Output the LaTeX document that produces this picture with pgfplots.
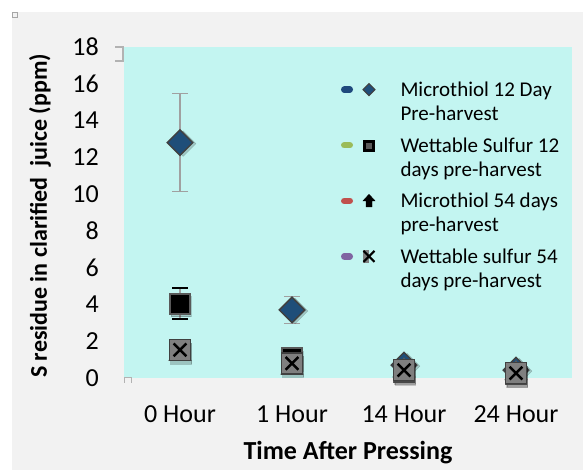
\documentclass[border=0pt]{standalone}
\usepackage{fontspec}
\setmainfont{Carlito}
\usepackage{pgfplots}
\pgfplotsset{compat=1.18}
\definecolor{bgout}{HTML}{F2F2F2}
\definecolor{plotbg}{HTML}{C3F5F1}
\definecolor{dblue}{HTML}{1F4E79}
\definecolor{mborder}{HTML}{404040}
\definecolor{sqborder}{HTML}{595959}
\definecolor{xfill}{HTML}{7F7F7F}
\definecolor{errgray}{HTML}{A0A0A0}
\definecolor{lblue}{HTML}{1F497D}
\definecolor{lgreen}{HTML}{9BBB59}
\definecolor{lred}{HTML}{C0504D}
\definecolor{lpurple}{HTML}{8064A2}
\newcommand{\lentry}[2]{\parbox[t]{170bp}{#1\\#2}}
\begin{document}
\begin{tikzpicture}
\path[use as bounding box] (0,0) rectangle (583bp,470bp);
\fill[white] (0,0) rectangle (583bp,470bp);
\fill[bgout] (12bp,0) rectangle (583bp,458bp);
\draw[gray!70, line width=1bp] (12.5bp,452.5bp) rectangle (17.5bp,457.5bp);
\begin{axis}[
  at={(124bp,92bp)}, anchor=south west,
  scale only axis, width=448bp, height=331bp,
  xmin=-0.5, xmax=3.5, ymin=0, ymax=18,
  axis background/.style={fill=plotbg},
  axis line style={draw=none},
  major tick length=0pt,
  xtick={0,1,2,3},
  xticklabels={0 Hour,1 Hour,14 Hour,24 Hour},
  ytick={0,2,...,18},
  /pgf/number format/assume math mode=true,
  tick label style={font=\fontsize{26bp}{30bp}\selectfont},
  xticklabel style={anchor=base, yshift=-44bp},
  yticklabel style={anchor=east, inner sep=0pt, xshift=-25bp},
  every axis x label/.style={at={(axis description cs:0.5,-0.2266)}, anchor=center},
  every axis y label/.style={at={(axis description cs:-0.1875,0.49)}, anchor=center, rotate=90},
  xlabel={Time After Pressing},
  ylabel={S residue in clarified\ \ juice (ppm)},
  xlabel style={font=\fontsize{26bp}{30bp}\selectfont\bfseries},
  ylabel style={font=\fontsize{24bp}{28bp}\selectfont\bfseries},
  legend style={at={(axis description cs:0.4844,0.900)}, anchor=north west,
    draw=none, fill=none, inner sep=0pt, outer sep=0pt,
    font=\fontsize{21bp}{24bp}\selectfont,
    row sep=0bp, column sep=23bp,
    cells={anchor=base west, inner sep=0pt}},
]
% soft shadows
\addplot[forget plot, only marks, mark=square*, mark size=9bp,
  mark options={rotate=45, fill=black, draw=none, opacity=0.18, xshift=1.5bp, yshift=-3bp}]
  coordinates {(0,12.8) (1,3.7) (2,0.7) (3,0.43)};
% Microthiol 12 day
\addplot[forget plot, only marks, mark=square*, mark size=9bp,
  mark options={rotate=45, fill=dblue, draw=mborder, line width=1.5bp},
  error bars/.cd, y dir=both, y explicit,
  error bar style={color=errgray, line width=1.2bp},
  error mark options={rotate=90, color=errgray, line width=1.2bp, mark size=8bp}]
  coordinates {(0,12.8) +- (0,2.65) (1,3.7) +- (0,0.75) (2,0.7) +- (0,0) (3,0.43) +- (0,0)};
% Wettable sulfur 12 days
\addplot[forget plot, only marks, mark=square*, mark size=10bp,
  mark options={fill=black, draw=none, opacity=0.18, xshift=1bp, yshift=-3bp}]
  coordinates {(0,4.05) (1,1.1) (2,0.3) (3,0.2)};
\addplot[forget plot, only marks, mark=square*, mark size=10bp,
  mark options={fill=black, draw=sqborder, line width=2bp},
  error bars/.cd, y dir=both, y explicit,
  error bar style={color=errgray, line width=1.2bp},
  error mark options={rotate=90, color=black, line width=1.5bp, mark size=8bp}]
  coordinates {(0,4.05) +- (0,0.85) (1,1.1) +- (0,0) (2,0.3) +- (0,0) (3,0.2) +- (0,0)};
% Microthiol 54 days
\addplot[forget plot, only marks, mark=triangle*, mark size=12bp,
  mark options={fill=black, draw=sqborder, line width=1.5bp}]
  coordinates {(0,1.3) (1,0.55) (2,0.4) (3,0.25)};
% Wettable sulfur 54 days
\addplot[forget plot, only marks, mark=square*, mark size=10.5bp,
  mark options={fill=black, draw=none, opacity=0.2, xshift=1bp, yshift=-3.5bp}]
  coordinates {(0,1.53) (1,0.8) (2,0.43) (3,0.27)};
\addplot[forget plot, only marks, mark=square*, mark size=10.5bp,
  mark options={fill=xfill, draw=mborder, line width=1.5bp}]
  coordinates {(0,1.53) (1,0.8) (2,0.43) (3,0.27)};
\addplot[forget plot, only marks, mark=x, mark size=9bp,
  mark options={draw=black, line width=2.5bp}]
  coordinates {(0,1.53) (1,0.8) (2,0.43) (3,0.27)};

\addlegendimage{legend image code/.code={
  \path[draw=none, fill=none] (0bp,-39bp) -- (0bp,15bp);
  \draw[lblue, line width=6.5bp, line cap=round] (3.25bp,7bp) -- (8.75bp,7bp);
  \fill[dblue, draw=mborder, line width=1bp] (28bp,1bp) -- (34bp,7bp) -- (28bp,13bp) -- (22bp,7bp) -- cycle;}}
\addlegendentry{\lentry{Microthiol 12 Day}{Pre-harvest}}
\addlegendimage{legend image code/.code={
  \path[draw=none, fill=none] (0bp,-39bp) -- (0bp,15bp);
  \draw[lgreen, line width=6.5bp, line cap=round] (3.25bp,7bp) -- (8.75bp,7bp);
  \fill[black] (22.5bp,1.5bp) rectangle (33.5bp,12.5bp);
  \fill[sqborder] (25.5bp,4.5bp) rectangle (30.5bp,9.5bp);}}
\addlegendentry{\lentry{Wettable Sulfur 12}{days pre-harvest}}
\addlegendimage{legend image code/.code={
  \path[draw=none, fill=none] (0bp,-39bp) -- (0bp,15bp);
  \draw[lred, line width=6.5bp, line cap=round] (3.25bp,7bp) -- (8.75bp,7bp);
  \fill[black] (28bp,13.5bp) -- (34bp,7bp) -- (31bp,7bp) -- (31bp,1bp) -- (25bp,1bp) -- (25bp,7bp) -- (22bp,7bp) -- cycle;}}
\addlegendentry{\lentry{Microthiol 54 days}{pre-harvest}}
\addlegendimage{legend image code/.code={
  \path[draw=none, fill=none] (0bp,-39bp) -- (0bp,15bp);
  \draw[lpurple, line width=6.5bp, line cap=round] (3.25bp,7bp) -- (8.75bp,7bp);
  \fill[xfill] (22bp,1bp) rectangle (27bp,13bp);
  \draw[black, line width=2bp] (22.5bp,1.5bp) -- (33.5bp,12.5bp) (22.5bp,12.5bp) -- (33.5bp,1.5bp);}}
\addlegendentry{\lentry{Wettable sulfur 54}{days pre-harvest}}
\end{axis}
\draw[gray!60, line width=1.5bp] (115bp,423bp) -- (123bp,423bp) -- (123bp,409bp) -- (115bp,409bp);
\draw[gray!60, line width=1bp] (124bp,87bp) -- (124bp,92bp) -- (131bp,92bp) -- (131bp,87bp);
\end{tikzpicture}
\end{document}
